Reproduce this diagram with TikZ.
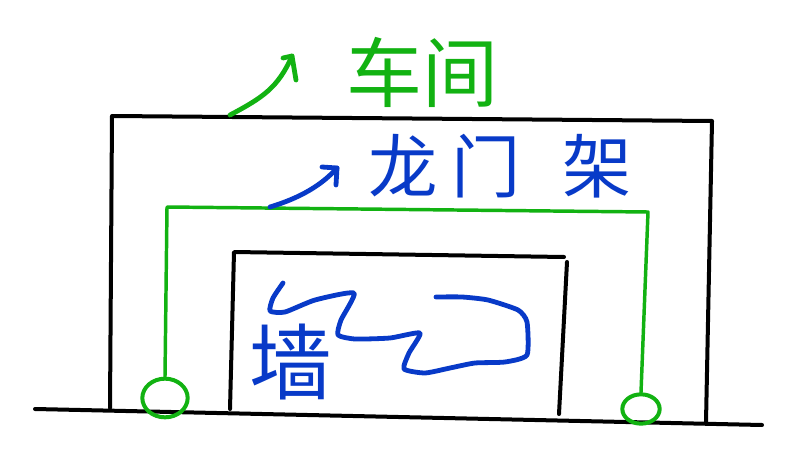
\documentclass[tikz,border=0pt]{standalone}
\usepackage{fontspec}
\newfontfamily\cjk{Noto Sans CJK SC}
\usetikzlibrary{shapes.geometric}
\definecolor{pengreen}{RGB}{18,178,18}
\definecolor{penblue}{RGB}{8,58,200}
\tikzset{
  blackline/.style={draw=black, line width=3pt},
  greenline/.style={draw=pengreen, line width=2.6pt},
  bluepen/.style={draw=penblue, line width=3.6pt},
  greenpen/.style={draw=pengreen, line width=3.6pt},
  foot/.style={ellipse, draw=pengreen, line width=3pt, inner sep=0pt},
  label/.style={inner sep=0pt, anchor=center}
}
\begin{document}
\begin{tikzpicture}[x=0.75pt, y=-0.75pt, line cap=round, line join=round]
\useasboundingbox (0,0) rectangle (799,474);
\fill[white] (0,0) rectangle (799,474);

% ground
\coordinate (g1) at (35,409);
\coordinate (g2) at (762,425);
\draw[blackline] (g1) -- (g2);

% workshop frame
\coordinate (o1) at (110,408);
\coordinate (o2) at (112,116);
\coordinate (o3) at (712,121);
\coordinate (o4) at (706,422);
\draw[blackline] (o1) -- (o2) -- (o3) -- (o4);

% wall frame
\coordinate (w1) at (230,409);
\coordinate (w2) at (234,252);
\coordinate (w3) at (564,257);
\coordinate (w4) at (567,262);
\coordinate (w5) at (559,414);
\draw[blackline] (w1) -- (w2) -- (w3);
\draw[blackline] (w4) -- (w5);

% gantry
\node[foot, minimum width=34, minimum height=29] (fl) at (165,398) {};
\node[foot, minimum width=28, minimum height=22] (fr) at (641,409) {};
\coordinate (gl) at (167,207);
\coordinate (gr) at (648,212);
\draw[greenline] (fl.north) -- (gl) -- (gr) -- (fr.north);

% wall scribble
\draw[bluepen] plot[smooth, tension=0.35] coordinates {
  (283,283) (273,298) (270,311) (285,312) (315,300) (354,293)
  (341,320) (338,335) (355,339) (390,338) (420,333)
  (409,353) (404,369) (425,373) (450,368) (475,363) (505,362) (527,355)
  (527,322) (518,310) (488,300) (462,297) (436,297)};

% labels
\node[label, text=pengreen, font=\cjk\fontsize{57}{60}\selectfont] (chejian) at (422,72) {车间};
\node[label, text=penblue, font=\cjk\fontsize{52}{56}\selectfont] (longmenjia) at (500,166) {龙\hspace{0.2em}门\hspace{0.6em}架};
\node[label, text=penblue, font=\cjk\fontsize{62}{66}\selectfont] (qiang) at (291,362) {墙};

% green arrow
\coordinate (ga0) at (230,115);
\coordinate (gat) at (292,56);
\coordinate (gah1) at (283,58);
\coordinate (gah2) at (296,80);
\draw[greenpen] (ga0) .. controls (262,98) and (278,88) .. (gat);
\draw[greenpen] (gah1) -- (gat) -- (gah2);

% blue arrow
\coordinate (ba0) at (270,207);
\coordinate (bat) at (337,168);
\coordinate (bah1) at (322,167);
\coordinate (bah2) at (336,185);
\draw[bluepen] (ba0) .. controls (300,198) and (322,185) .. (bat);
\draw[bluepen] (bah1) -- (bat) -- (bah2);
\end{tikzpicture}
\end{document}
